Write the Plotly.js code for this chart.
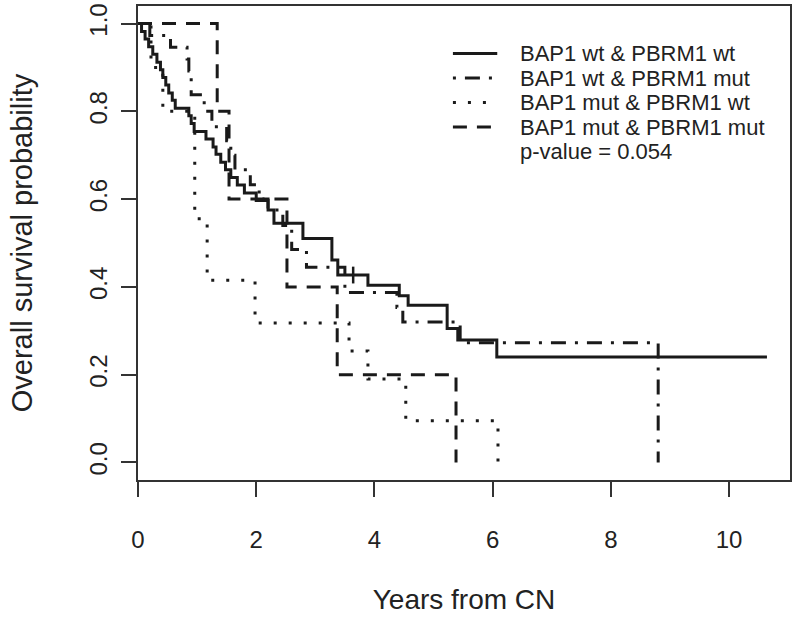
<!DOCTYPE html>
<html>
<head>
<meta charset="utf-8">
<script src="https://cdn.plot.ly/plotly-3.0.1.min.js"></script>
<style>html,body{margin:0;padding:0;background:#fff;}#chart{width:800px;height:621px;}</style>
</head>
<body>
<div id="chart"></div>
<script>
// Series names
var seriesNames = ["BAP1 wt & PBRM1 wt", "BAP1 wt & PBRM1 mut", "BAP1 mut & PBRM1 wt", "BAP1 mut & PBRM1 mut"];
var pValueText = "p-value = 0.054";

// Kaplan-Meier steps (time in years, survival after the step)
var wtwtT = [0, 0.06, 0.12, 0.18, 0.25, 0.32, 0.38, 0.42, 0.47, 0.52, 0.58, 0.63, 0.86, 0.90, 0.95, 1.15, 1.27, 1.32, 1.40, 1.48, 1.57, 1.68, 1.80, 2.00, 2.20, 2.30, 2.79, 3.28, 3.38, 3.89, 4.42, 4.57, 5.23, 5.41, 6.07, 10.64];
var wtwtS = [1, 0.982, 0.965, 0.947, 0.930, 0.912, 0.895, 0.877, 0.860, 0.842, 0.825, 0.807, 0.790, 0.772, 0.754, 0.737, 0.719, 0.702, 0.684, 0.667, 0.649, 0.632, 0.614, 0.597, 0.575, 0.545, 0.510, 0.461, 0.427, 0.404, 0.380, 0.358, 0.305, 0.279, 0.240, 0.240];
var wtwtCensT = [3.64];
var wtwtCensS = [0.427];

var wtmutT = [0, 0.20, 0.55, 0.83, 0.86, 0.90, 1.12, 1.25, 1.50, 1.57, 1.64, 1.90, 2.05, 2.20, 2.45, 2.60, 2.85, 3.50, 4.38, 4.48, 5.45, 8.80];
var wtmutS = [1, 0.973, 0.946, 0.919, 0.892, 0.838, 0.800, 0.765, 0.733, 0.700, 0.667, 0.633, 0.600, 0.575, 0.540, 0.485, 0.445, 0.387, 0.353, 0.320, 0.273, 0];

var mutwtT = [0, 0.22, 0.42, 0.96, 1.17, 1.98, 3.57, 3.89, 4.53, 6.09];
var mutwtS = [1, 0.900, 0.800, 0.555, 0.415, 0.318, 0.254, 0.190, 0.095, 0];

var mutmutT = [0, 1.34, 1.54, 2.52, 3.37, 5.38];
var mutmutS = [1, 0.800, 0.600, 0.400, 0.200, 0];

var xTicks = [0, 2, 4, 6, 8, 10];
var yTicks = [0, 0.2, 0.4, 0.6, 0.8, 1.0];
var yTickText = ["0.0", "0.2", "0.4", "0.6", "0.8", "1.0"];

var ink = "#1a1a1a";
var dashes = ["solid", "3px,9px,15px,9px", "3px,12px", "14px,10px"];
var FONT = "Liberation Sans, Arial, Helvetica, sans-serif";

var sets = [[wtwtT, wtwtS], [wtmutT, wtmutS], [mutwtT, mutwtS], [mutmutT, mutmutS]];
var traces = sets.map(function (s, i) {
  return {
    x: s[0], y: s[1], type: "scatter", mode: "lines", name: seriesNames[i],
    line: {shape: "hv", color: ink, width: 3, dash: dashes[i]},
    showlegend: false, hoverinfo: "skip"
  };
});
traces.push({
  x: wtwtCensT, y: wtwtCensS, type: "scatter", mode: "markers", showlegend: false,
  marker: {symbol: "line-ns", size: 12, line: {color: ink, width: 2.5}}, hoverinfo: "skip"
});

// Legend drawn as annotations + sample lines (paper coords)
var rowY = [0.8998, 0.8481, 0.7964, 0.7447];
var pRowY = 0.6930;
var shapes = [];
var annotations = [];
seriesNames.forEach(function (n, i) {
  shapes.push({type: "line", xref: "paper", yref: "paper", x0: 0.483, x1: 0.551, y0: rowY[i], y1: rowY[i],
    line: {color: ink, width: 3, dash: dashes[i]}});
  annotations.push({xref: "paper", yref: "paper", x: 0.583, y: rowY[i], xanchor: "left", yanchor: "middle",
    text: n, showarrow: false, font: {family: FONT, size: 22, color: "#222"}});
});
annotations.push({xref: "paper", yref: "paper", x: 0.583, y: pRowY, xanchor: "left", yanchor: "middle",
  text: pValueText, showarrow: false, font: {family: FONT, size: 22, color: "#222"}});

var axisCommon = {
  showgrid: false, zeroline: false, showline: true, linewidth: 2, linecolor: "#333", mirror: true,
  ticks: "outside", ticklen: 15, tickwidth: 2, tickcolor: "#333",
  tickfont: {family: FONT, size: 24, color: "#222"}
};

var layout = {
  width: 800, height: 621,
  margin: {l: 138, r: 10, t: 6, b: 141},
  paper_bgcolor: "#fff", plot_bgcolor: "#fff",
  xaxis: Object.assign({}, axisCommon, {
    range: [0, 11.03], tickvals: xTicks, ticklabelstandoff: 22,
    title: {text: "Years from CN", font: {family: FONT, size: 28, color: "#222"}, standoff: 38}
  }),
  yaxis: Object.assign({}, axisCommon, {
    range: [-0.04, 1.04], tickvals: yTicks, ticktext: yTickText, tickangle: -90, ticklabelstandoff: 4,
    title: {text: "Overall survival probability", font: {family: FONT, size: 29, color: "#222"}, standoff: 44}
  }),
  shapes: shapes, annotations: annotations
};

Plotly.newPlot("chart", traces, layout, {displayModeBar: false, staticPlot: true});
</script>
</body>
</html>
